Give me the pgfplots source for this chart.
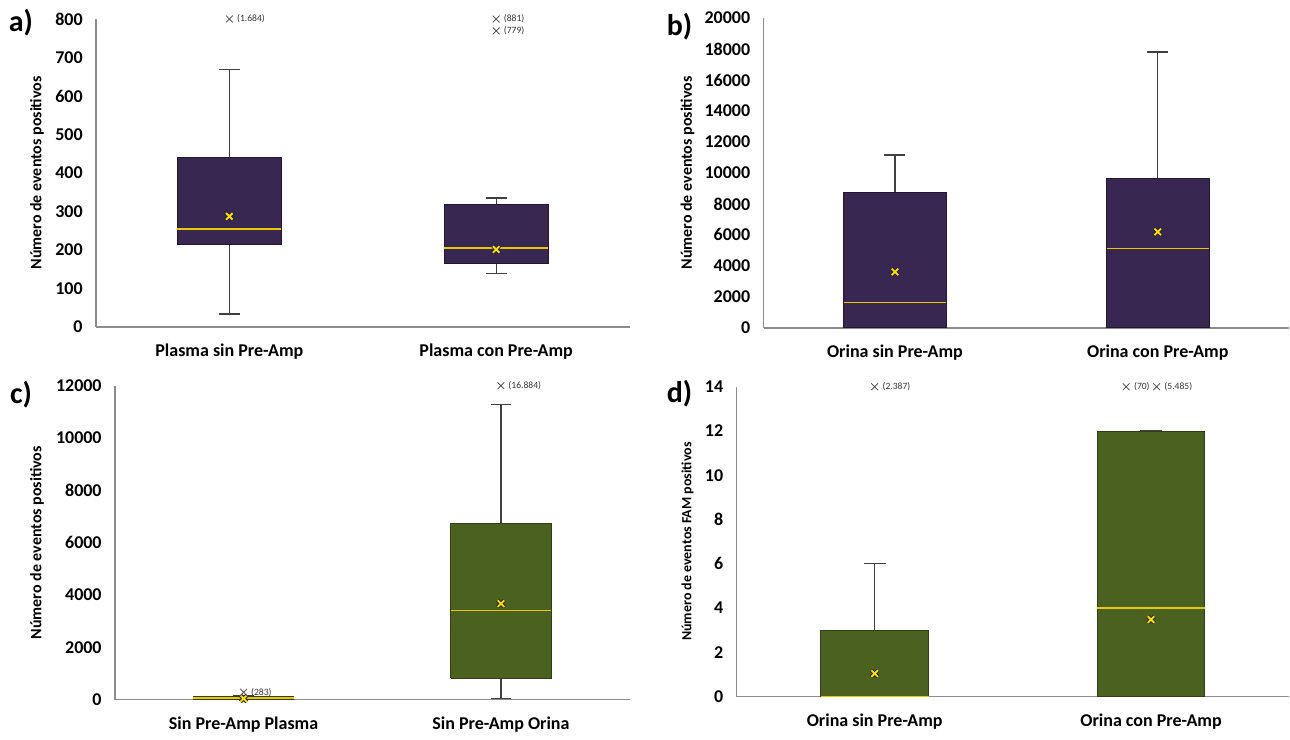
\documentclass[border=0pt]{standalone}
\usepackage{pgfplots}
\pgfplotsset{compat=1.18}
\usepackage{fontspec}
\setmainfont{Carlito}
\definecolor{purfill}{HTML}{382750}
\definecolor{purline}{HTML}{231633}
\definecolor{grnfill}{HTML}{4A6120}
\definecolor{grnline}{HTML}{2F4012}
\definecolor{medy}{HTML}{E8C800}
\definecolor{axgray}{HTML}{8C8C8C}
\definecolor{whisk}{HTML}{404040}
\definecolor{meany}{HTML}{FFE000}
\tikzset{olab/.style={anchor=west, inner sep=1pt, font=\fontsize{4.8}{5}\selectfont, text=black!80}}
\pgfplotsset{
  panel/.style={
    scale only axis, clip=false,
    axis x line=bottom, axis y line=left,
    axis line style={draw=axgray, line width=0.8pt, -},
    tick style={draw=none},
    xmin=0.5, xmax=2.5, xtick={1,2},
    ymin=0,
    scaled y ticks=false,
    /pgf/number format/assume math mode=true,
    /pgf/number format/1000 sep={},
    tick label style={font=\fontsize{9}{10}\selectfont\bfseries, text=black},
    yticklabel style={xshift=-1pt},
    xticklabel style={yshift=-3pt},
    ylabel style={font=\fontsize{8}{9}\selectfont\bfseries, anchor=center},
  },
  pfill/.style={fill=purfill, draw=purline, line width=0.5pt, mark=none},
  gfill/.style={fill=grnfill, draw=grnline, line width=0.5pt, mark=none},
  medl/.style={draw=medy, line width=0.6pt, mark=none},
  wl/.style={draw=whisk, line width=0.6pt, mark=none, unbounded coords=jump},
  meanback/.style={only marks, mark=x, mark size=2.3pt, mark options={draw=black!85, line width=1.9pt}},
  meanfront/.style={only marks, mark=x, mark size=2.3pt, mark options={draw=meany, line width=0.9pt}},
  outl/.style={only marks, mark=x, mark size=2.4pt, mark options={draw=black!75, line width=0.35pt}},
}
\begin{document}
\begin{tikzpicture}
\path (0,0) rectangle (645pt,365.5pt);
% ---------------- a)
\begin{axis}[panel, at={(48pt,202pt)}, anchor=south west, width=267pt, height=154pt,
  ymax=800, ytick={0,100,200,300,400,500,600,700,800},
  xticklabels={Plasma sin Pre-Amp, Plasma con Pre-Amp},
  ylabel={Número de eventos positivos},
  ylabel style={at={(axis description cs:-0.1105,0.5)}}]
\addplot[wl] coordinates {(1,440) (1,668) (nan,nan) (0.96,668) (1.04,668) (nan,nan) (1,214) (1,33) (nan,nan) (0.96,33) (1.04,33)};
\addplot[wl] coordinates {(2,319) (2,335) (nan,nan) (1.96,335) (2.04,335) (nan,nan) (2,164) (2,138) (nan,nan) (1.96,138) (2.04,138)};
\addplot[pfill] coordinates {(0.805,214) (1.195,214) (1.195,440) (0.805,440) (0.805,214)};
\addplot[pfill] coordinates {(1.805,164) (2.195,164) (2.195,319) (1.805,319) (1.805,164)};
\addplot[medl] coordinates {(0.805,254) (1.195,254)};
\addplot[medl] coordinates {(1.805,205) (2.195,205)};
\addplot[meanback] coordinates {(1,287) (2,201)};
\addplot[meanfront] coordinates {(1,287) (2,201)};
\addplot[outl] coordinates {(1,800) (2,800) (2,769)};
\node[olab] at (axis cs:1.02,800) {(1.684)};
\node[olab] at (axis cs:2.02,800) {(881)};
\node[olab] at (axis cs:2.02,769) {(779)};
\end{axis}
% ---------------- b)  (values in thousands)
\begin{axis}[panel, at={(382pt,201.5pt)}, anchor=south west, width=263pt, height=155pt,
  ymax=20, ytick={0,2,4,6,8,10,12,14,16,18,20},
  yticklabels={0,2000,4000,6000,8000,10000,12000,14000,16000,18000,20000},
  xticklabels={Orina sin Pre-Amp, Orina con Pre-Amp},
  ylabel={Número de eventos positivos},
  ylabel style={at={(axis description cs:-0.1445,0.5)}}]
\addplot[wl] coordinates {(1,8.71) (1,11.16) (nan,nan) (0.96,11.16) (1.04,11.16) (nan,nan) (0.96,0) (1.04,0)};
\addplot[wl] coordinates {(2,9.64) (2,17.8) (nan,nan) (1.96,17.8) (2.04,17.8) (nan,nan) (1.96,0) (2.04,0)};
\addplot[pfill] coordinates {(0.805,0) (1.195,0) (1.195,8.71) (0.805,8.71) (0.805,0)};
\addplot[pfill] coordinates {(1.805,0) (2.195,0) (2.195,9.64) (1.805,9.64) (1.805,0)};
\addplot[medl] coordinates {(0.805,1.61) (1.195,1.61)};
\addplot[medl] coordinates {(1.805,5.10) (2.195,5.10)};
\addplot[meanback] coordinates {(1,3.61) (2,6.19)};
\addplot[meanfront] coordinates {(1,3.61) (2,6.19)};
\end{axis}
% ---------------- c)  (values in thousands)
\begin{axis}[panel, at={(57.5pt,15.5pt)}, anchor=south west, width=257.5pt, height=157pt,
  ymax=12, ytick={0,2,4,6,8,10,12},
  yticklabels={0,2000,4000,6000,8000,10000,12000},
  xticklabels={Sin Pre-Amp Plasma, Sin Pre-Amp Orina},
  ylabel={Número de eventos positivos},
  ylabel style={at={(axis description cs:-0.1515,0.5)}}]
\addplot[wl] coordinates {(1,0.10) (1,0.15) (nan,nan) (0.96,0.15) (1.04,0.15) (nan,nan) (0.96,0) (1.04,0)};
\addplot[wl] coordinates {(2,6.725) (2,11.27) (nan,nan) (1.96,11.27) (2.04,11.27) (nan,nan) (2,0.82) (2,0.04) (nan,nan) (1.96,0.04) (2.04,0.04)};
\addplot[gfill] coordinates {(0.805,0.02) (1.195,0.02) (1.195,0.10) (0.805,0.10) (0.805,0.02)};
\addplot[gfill] coordinates {(1.805,0.82) (2.195,0.82) (2.195,6.725) (1.805,6.725) (1.805,0.82)};
\addplot[medl] coordinates {(0.805,0.06) (1.195,0.06)};
\addplot[medl] coordinates {(1.805,3.40) (2.195,3.40)};
\addplot[meanback] coordinates {(1,0.04) (2,3.67)};
\addplot[meanfront] coordinates {(1,0.04) (2,3.67)};
\addplot[outl] coordinates {(1,0.283) (2,12)};
\node[olab] at (axis cs:1.02,0.283) {(283)};
\node[olab] at (axis cs:2.02,12) {(16.884)};
\end{axis}
% ---------------- d)
\begin{axis}[panel, at={(368.5pt,17pt)}, anchor=south west, width=276.5pt, height=155pt,
  ymax=14, ytick={0,2,4,6,8,10,12,14},
  xticklabels={Orina sin Pre-Amp, Orina con Pre-Amp},
  ylabel={Número de eventos FAM positivos},
  ylabel style={font=\fontsize{7}{8}\selectfont\bfseries, at={(axis description cs:-0.0886,0.5)}}]
\addplot[wl] coordinates {(1,3) (1,6) (nan,nan) (0.96,6) (1.04,6) (nan,nan) (0.96,0) (1.04,0)};
\addplot[wl] coordinates {(1.96,12) (2.04,12) (nan,nan) (1.96,0) (2.04,0)};
\addplot[gfill] coordinates {(0.805,0) (1.195,0) (1.195,3) (0.805,3) (0.805,0)};
\addplot[gfill] coordinates {(1.805,0) (2.195,0) (2.195,12) (1.805,12) (1.805,0)};
\addplot[medl] coordinates {(0.805,0) (1.195,0)};
\addplot[medl] coordinates {(1.805,4) (2.195,4)};
\addplot[meanback] coordinates {(1,1.04) (2,3.48)};
\addplot[meanfront] coordinates {(1,1.04) (2,3.48)};
\addplot[outl] coordinates {(1,14) (1.91,14) (2.02,14)};
\node[olab] at (axis cs:1.02,14) {(2.387)};
\node[olab] at (axis cs:1.93,14) {(70)};
\node[olab] at (axis cs:2.04,14) {(5.485)};
\end{axis}
% panel letters
\node[font=\fontsize{15}{16}\selectfont\bfseries] at (10.5pt,354pt) {a)};
\node[font=\fontsize{15}{16}\selectfont\bfseries] at (340pt,352pt) {b)};
\node[font=\fontsize{15}{16}\selectfont\bfseries] at (10.5pt,168pt) {c)};
\node[font=\fontsize{15}{16}\selectfont\bfseries] at (340pt,168.5pt) {d)};
\end{tikzpicture}
\end{document}
